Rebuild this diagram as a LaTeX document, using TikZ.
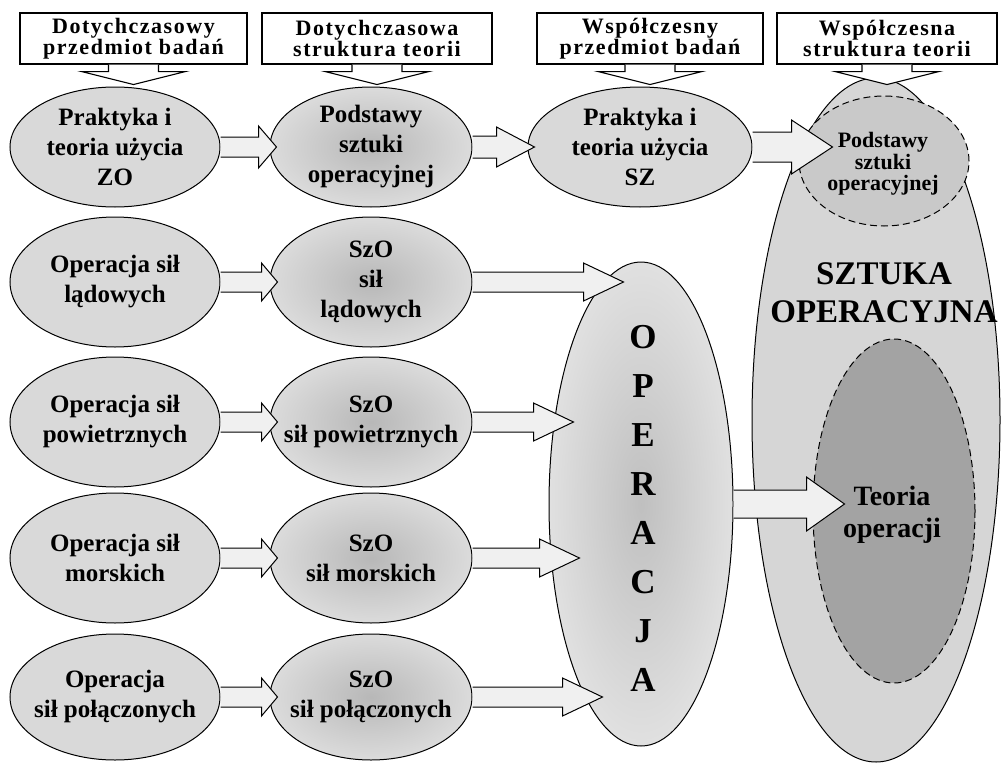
\documentclass[tikz,border=0pt]{standalone}
\usepackage{fontspec}
\setmainfont{Liberation Serif}
\usetikzlibrary{shapes.geometric,calc}

\tikzset{
  hdr/.style={draw, fill=white, line width=1.1pt, minimum width=226pt, minimum height=51pt,
    inner sep=0pt, align=center,
    font=\fontsize{22}{21}\selectfont\bfseries\addfontfeatures{LetterSpace=7}},
  oval/.style={ellipse, draw, fill=black!15, inner sep=0pt, label={[ovaltext]center:#1}},
  ovaltext/.style={align=center, font=\fontsize{25}{30}\selectfont\bfseries},
  leftcol/.style={minimum width=210pt, minimum height=130pt},
  midcol/.style={minimum width=202pt, minimum height=130pt,
    shade, inner color=black!28, outer color=black!14},
  dashoval/.style={ellipse, draw, dash pattern=on 7pt off 4pt, inner sep=0pt},
}

\newcommand{\callout}[1]{%
  \filldraw[fill=white, line width=1.1pt] ($(#1.south)+(-25,0)$) -- ++(0,7) -- ++(-27,0)
    -- ($(#1.south)+(0,20)$) -- ($(#1.south)+(52,7)$) -- ++(-27,0) -- ++(0,-7);}

% from, to, overshoot, shaft, head, head length
\newcommand{\blockarrow}[6]{%
  \fill[black!6] let \p1=(#1), \p2=(#2) in
    (\x1,{\y1+#4pt}) -- ({\x2+#3pt-#6pt},{\y1+#4pt}) -- ({\x2+#3pt-#6pt},{\y1+#5pt})
    -- ({\x2+#3pt},\y1) -- ({\x2+#3pt-#6pt},{\y1-#5pt}) -- ({\x2+#3pt-#6pt},{\y1-#4pt})
    -- (\x1,{\y1-#4pt}) -- cycle;
  \draw[line join=miter] let \p1=(#1), \p2=(#2) in
    (\x1,{\y1+#4pt}) -- ({\x2+#3pt-#6pt},{\y1+#4pt}) -- ({\x2+#3pt-#6pt},{\y1+#5pt})
    -- ({\x2+#3pt},\y1) -- ({\x2+#3pt-#6pt},{\y1-#5pt}) -- ({\x2+#3pt-#6pt},{\y1-#4pt})
    -- (\x1,{\y1-#4pt});}

\begin{document}
\begin{tikzpicture}[x=1pt, y=-1pt, line width=1pt]
  \useasboundingbox (0,0) rectangle (1002,763);

  \node[ellipse, draw, fill=black!16, inner sep=0pt, minimum width=248pt, minimum height=684pt] (sztuka) at (876,420) {};
  \node[dashoval, fill=black!21, minimum width=170pt, minimum height=130pt] (podstSO) at (884,161) {};
  \node[dashoval, fill=black!36, minimum width=162pt, minimum height=344pt] (teoria) at (894,511) {};
  \node[ellipse, draw, inner sep=0pt, shade, inner color=black!25, outer color=black!12,
    minimum width=184pt, minimum height=484pt] (operacja) at (641,504) {};

  \node[font=\fontsize{33}{38}\selectfont\bfseries, align=center] (sztLbl) at (884,293) {SZTUKA\\OPERACYJNA};
  \node[font=\fontsize{22}{21.5}\selectfont\bfseries, align=center] (podstLbl) at (883,164) {Podstawy\\sztuki\\operacyjnej};
  \node[font=\fontsize{28}{32}\selectfont\bfseries, align=center] (teoriaLbl) at (892,515) {Teoria\\operacji};
  \node[font=\fontsize{35}{49}\selectfont\bfseries, align=center] (operLbl) at (643,508) {O\\P\\E\\R\\A\\C\\J\\A};

  \node[oval={Praktyka i\\teoria użycia\\ZO}, leftcol, minimum height=120pt] (praktZO) at (115,147) {};
  \node[oval={Podstawy\\sztuki\\operacyjnej}, midcol, minimum height=120pt] (podstawy) at (371,147) {};
  \node[oval={Praktyka i\\teoria użycia\\SZ}, minimum width=224pt, minimum height=120pt] (praktSZ) at (640,147) {};

  \node[oval={Operacja sił\\lądowych}, leftcol] (opLad) at (115,282) {};
  \node[oval={SzO\\sił\\lądowych}, midcol] (szoLad) at (371,282) {};
  \node[oval={Operacja sił\\powietrznych}, leftcol] (opPow) at (115,422) {};
  \node[oval={SzO\\sił powietrznych}, midcol] (szoPow) at (371,422) {};
  \node[oval={Operacja sił\\morskich}, leftcol] (opMor) at (115,558) {};
  \node[oval={SzO\\sił morskich}, midcol] (szoMor) at (371,558) {};
  \node[oval={Operacja\\sił połączonych}, leftcol, minimum height=126pt] (opPol) at (115,697) {};
  \node[oval={SzO\\sił połączonych}, midcol, minimum height=126pt] (szoPol) at (371,697) {};

  \blockarrow{praktZO.east}{podstawy.west}{7}{10}{21}{18}
  \blockarrow{podstawy.east}{praktSZ.west}{7}{11}{20}{38}
  \blockarrow{praktSZ.east}{podstSO.west}{34}{15}{27}{41}
  \blockarrow{opLad.east}{szoLad.west}{8}{10}{19}{16}
  \blockarrow{opPow.east}{szoPow.west}{8}{10}{19}{16}
  \blockarrow{opMor.east}{szoMor.west}{8}{10}{19}{16}
  \blockarrow{opPol.east}{szoPol.west}{8}{10}{19}{16}
  \blockarrow{szoLad.east}{operacja.west}{75}{10}{19}{40}
  \blockarrow{szoPow.east}{operacja.west}{25}{10}{19}{40}
  \blockarrow{szoMor.east}{operacja.west}{31}{10}{19}{40}
  \blockarrow{szoPol.east}{operacja.west}{54}{10}{19}{40}
  \blockarrow{operacja.east}{teoria.west}{32}{14}{27}{38}

  \node[hdr, minimum width=227pt] (hdrOld) at (133.5,38.5) {Dotychczasowy\\przedmiot badań};
  \node[hdr, minimum width=230pt] (hdrOldStr) at (377,38.5) {Dotychczasowa\\struktura teorii};
  \node[hdr] (hdrNew) at (650,38.5) {Współczesny\\przedmiot badań};
  \node[hdr, minimum width=220pt] (hdrNewStr) at (887,38.5) {Współczesna\\struktura teorii};
  \callout{hdrOld}
  \callout{hdrOldStr}
  \callout{hdrNew}
  \callout{hdrNewStr}
\end{tikzpicture}
\end{document}
